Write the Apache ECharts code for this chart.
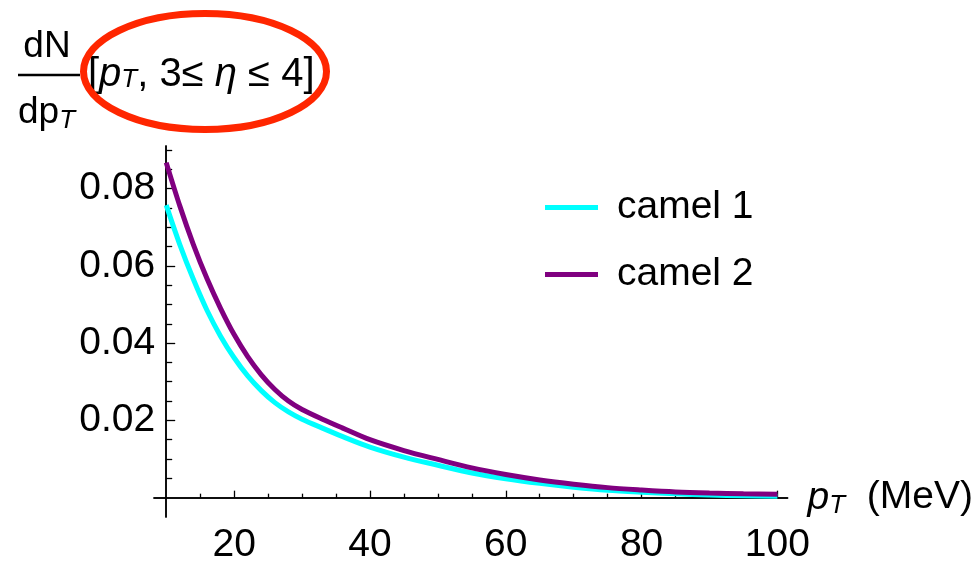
<!DOCTYPE html>
<html>
<head>
<meta charset="utf-8">
<script src="https://cdn.jsdelivr.net/npm/echarts@6/dist/echarts.min.js"></script>
<style>html,body{margin:0;padding:0;background:#fff}#c{width:976px;height:565px}</style>
</head>
<body>
<div id="c"></div>
<script>
// ---- data ----
var pT = [10, 12, 14, 16, 18, 20, 22, 24, 26, 28, 30, 33, 36, 40, 45, 50, 55, 60, 65, 70, 75, 80, 85, 90, 95, 100];
var camel1 = [0.0757, 0.0655, 0.0565, 0.0485, 0.0418, 0.0362, 0.0315, 0.0277, 0.0246, 0.0222, 0.0203, 0.0180, 0.0158, 0.0131, 0.0105, 0.0084, 0.0064, 0.0049, 0.0037, 0.0027, 0.0019, 0.0014, 0.0010, 0.0007, 0.0005, 0.0004];
var camel2 = [0.0867, 0.0755, 0.0655, 0.0567, 0.0490, 0.0422, 0.0365, 0.0318, 0.0280, 0.0250, 0.0228, 0.0203, 0.0180, 0.0150, 0.0122, 0.0099, 0.0077, 0.0060, 0.0046, 0.0035, 0.0026, 0.0020, 0.0015, 0.0012, 0.0010, 0.0009];
var seriesNames = ['camel 1', 'camel 2'];
var xLabelTicks = [20, 40, 60, 80, 100];
var xMinorTicks = [15, 25, 30, 35, 45, 50, 55, 65, 70, 75, 85, 90, 95];
var yLabelTicks = [0.02, 0.04, 0.06, 0.08];
var yMinorTicks = [0.005, 0.01, 0.015, 0.025, 0.03, 0.035, 0.045, 0.05, 0.055, 0.065, 0.07, 0.075, 0.085, 0.09];
var xRange = [8.2, 101.5];
var yRange = [-0.005, 0.091];

function pairs(xs, ys) { return xs.map(function (x, i) { return [x, ys[i]]; }); }

var FONT = '"Liberation Sans", Arial, Helvetica, sans-serif';
var FS = 39;
var chart = echarts.init(document.getElementById('c'));
var axisLineStyle = { color: '#000', width: 1.5 };

function xAxisDef(ticks, major) {
  return {
    type: 'value', position: 'bottom', min: xRange[0], max: xRange[1],
    axisLine: { show: true, onZero: true, lineStyle: axisLineStyle },
    axisTick: { show: true, inside: true, length: major ? 7 : 4, customValues: ticks, lineStyle: { color: '#000', width: 1.3 } },
    axisLabel: major ? { show: true, customValues: ticks, margin: 9, fontSize: FS, color: '#000', fontFamily: FONT } : { show: false },
    splitLine: { show: false },
    name: major ? '{p|p}{s|T}{n|  (MeV)}' : '',
    nameLocation: 'end', nameGap: 20,
    nameTextStyle: {
      fontFamily: FONT, color: '#000',
      rich: {
        p: { fontSize: FS, fontStyle: 'italic', fontFamily: FONT, color: '#000' },
        s: { fontSize: 26, fontStyle: 'italic', fontFamily: FONT, color: '#000', padding: [16, 0, 0, 0] },
        n: { fontSize: FS, fontFamily: FONT, color: '#000' }
      }
    }
  };
}
function yAxisDef(ticks, major) {
  return {
    type: 'value', position: 'left', offset: -12.2, min: yRange[0], max: yRange[1],
    axisLine: { show: true, onZero: false, lineStyle: axisLineStyle },
    axisTick: { show: true, inside: true, length: major ? 9 : 6, customValues: ticks, lineStyle: { color: '#000', width: 1.3 } },
    axisLabel: major ? { show: true, customValues: ticks, margin: 11, fontSize: FS, color: '#000', fontFamily: FONT,
      formatter: function (v) { return v.toFixed(2); } } : { show: false },
    splitLine: { show: false }
  };
}

var option = {
  backgroundColor: '#fff',
  animation: false,
  grid: { left: 154, top: 146, width: 634, height: 391, containLabel: false },
  xAxis: [xAxisDef(xLabelTicks, true), xAxisDef(xMinorTicks, false)],
  yAxis: [yAxisDef(yLabelTicks, true), yAxisDef(yMinorTicks, false)],
  legend: {
    orient: 'vertical', left: 540, top: 180, itemWidth: 53, itemHeight: 5, itemGap: 22,
    icon: 'rect',
    textStyle: { fontSize: FS, lineHeight: 45, color: '#000', fontFamily: FONT, padding: [0, 0, 0, 14] },
    data: seriesNames
  },
  series: [
    { name: seriesNames[0], type: 'line', data: pairs(pT, camel1), smooth: 0.3, showSymbol: false, symbol: 'none',
      color: '#00FFFF', lineStyle: { color: '#00FFFF', width: 5 } },
    { name: seriesNames[1], type: 'line', data: pairs(pT, camel2), smooth: 0.3, showSymbol: false, symbol: 'none',
      color: '#800080', lineStyle: { color: '#800080', width: 5 } }
  ],
  graphic: [
    { type: 'text', style: { x: 47, y: 47, text: 'dN', font: '37px ' + FONT, fill: '#000', textAlign: 'center', textVerticalAlign: 'middle' } },
    { type: 'line', shape: { x1: 18, y1: 75, x2: 80, y2: 75 }, style: { stroke: '#000', lineWidth: 2.5 } },
    { type: 'text', style: { x: 18, y: 92, text: '{a|dp}{s|T}', fill: '#000',
        rich: { a: { fontSize: 37, fontFamily: FONT, fill: '#000' }, s: { fontSize: 26, fontStyle: 'italic', fontFamily: FONT, fill: '#000', padding: [16, 0, 0, 0] } } } },
    { type: 'text', style: { x: 88, y: 55, text: '{a|[}{i|p}{s|T}{a|, 3≤ }{i|η}{a| ≤ 4]}', fill: '#000',
        rich: {
          a: { fontSize: 40, fontFamily: FONT, fill: '#000' },
          i: { fontSize: 40, fontStyle: 'italic', fontFamily: FONT, fill: '#000' },
          s: { fontSize: 26, fontStyle: 'italic', fontFamily: FONT, fill: '#000', padding: [10, 0, 0, 0] }
        } } },
    { type: 'ellipse', shape: { cx: 205, cy: 71.5, rx: 121.5, ry: 58 }, style: { fill: 'none', stroke: '#FF2600', lineWidth: 7 } }
  ]
};
chart.setOption(option);
</script>
</body>
</html>
